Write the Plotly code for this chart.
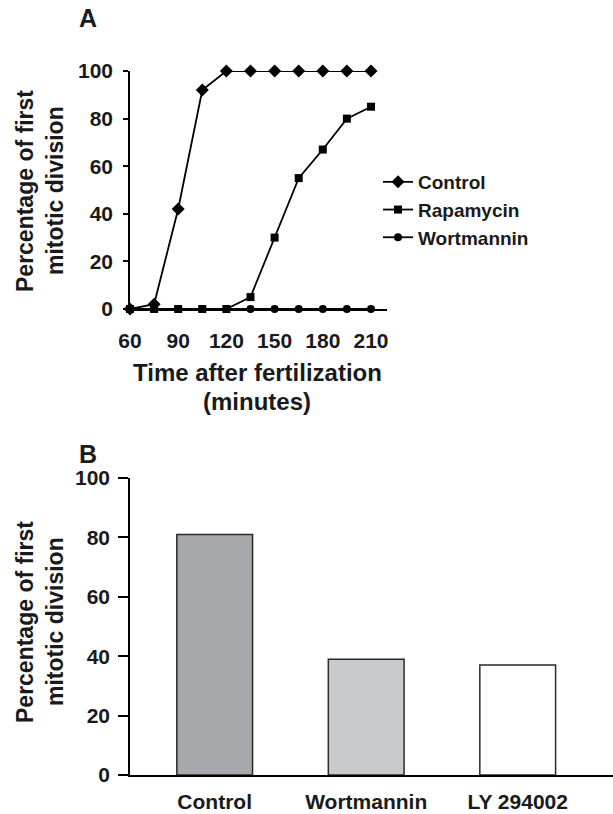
import plotly.graph_objects as go

# ---- Panel A data ----
time_min = [60, 75, 90, 105, 120, 135, 150, 165, 180, 195, 210]
control = [0, 2, 42, 92, 100, 100, 100, 100, 100, 100, 100]
rapamycin = [0, 0, 0, 0, 0, 5, 30, 55, 67, 80, 85]
wortmannin = [0, 0, 0, 0, 0, 0, 0, 0, 0, 0, 0]
a_xticks = [60, 90, 120, 150, 180, 210]
a_yticks = [0, 20, 40, 60, 80, 100]

# ---- Panel B data ----
b_categories = ["Control", "Wortmannin", "LY 294002"]
b_values = [81, 39, 37]
b_colors = ["#a7a8ac", "#c9cacc", "#ffffff"]
b_yticks = [0, 20, 40, 60, 80, 100]

W, H = 613, 814
FONT = "Liberation Sans, Arial, Helvetica, sans-serif"
INK = "#1a1a1a"


def px(x):
    return x / W


def py(y):
    return 1 - y / H


fig = go.Figure()

line_kw = dict(color="black", width=1.8)
fig.add_trace(go.Scatter(x=time_min, y=control, name="Control", mode="lines+markers",
                         line=line_kw, marker=dict(symbol="diamond", size=10, color="black"),
                         xaxis="x", yaxis="y", cliponaxis=False, legendgroup="c"))
fig.add_trace(go.Scatter(x=time_min, y=rapamycin, name="Rapamycin", mode="lines+markers",
                         line=line_kw, marker=dict(symbol="square", size=8, color="black"),
                         xaxis="x", yaxis="y", cliponaxis=False, legendgroup="r"))
fig.add_trace(go.Scatter(x=time_min, y=wortmannin, name="Wortmannin", mode="lines+markers",
                         line=line_kw, marker=dict(symbol="circle", size=8, color="black"),
                         xaxis="x", yaxis="y", cliponaxis=False, legendgroup="w"))

fig.add_trace(go.Bar(x=b_categories, y=b_values, width=0.5,
                     marker=dict(color=b_colors, line=dict(color="#2a2a2a", width=1.5)),
                     xaxis="x2", yaxis="y2", showlegend=False))

# Panel A geometry (pixels)
a_left, a_right, a_top, a_bottom = 130, 387, 71, 309
a_x210 = 371
a_xmax = 60 + (a_right - a_left) / (a_x210 - a_left) * 150

# Panel B geometry
b_left, b_right, b_top, b_bottom = 130, 613, 478, 775
b_c0, b_step = 214.7, 151.5

tickfont = dict(family=FONT, size=21, color=INK, weight="bold")

common = dict(showline=True, linecolor="black", linewidth=1.5, showgrid=False,
              zeroline=False, tickfont=tickfont, automargin=False, fixedrange=True)

fig.update_layout(
    width=W, height=H,
    margin=dict(l=0, r=0, t=0, b=0),
    paper_bgcolor="white", plot_bgcolor="white",
    font=dict(family=FONT, color=INK),
    xaxis=dict(domain=[px(a_left), px(a_right)], range=[60, a_xmax],
               tickvals=a_xticks, ticks="outside", ticklen=12, tickcolor="rgba(0,0,0,0)",
               anchor="y", **common),
    yaxis=dict(domain=[py(a_bottom), py(a_top)], range=[0, 100],
               tickvals=a_yticks, ticks="outside", ticklen=5, tickwidth=1.5, tickcolor="black",
               ticklabelstandoff=6, anchor="x", **common),
    xaxis2=dict(domain=[px(b_left), px(b_right)],
                range=[(b_left - b_c0) / b_step, (b_right - b_c0) / b_step],
                type="category", ticks="outside", ticklen=7, tickcolor="rgba(0,0,0,0)",
                anchor="y2", **common),
    yaxis2=dict(domain=[py(b_bottom), py(b_top)], range=[0, 100],
                tickvals=b_yticks, ticks="outside", ticklen=10, tickwidth=1.5, tickcolor="black",
                ticklabelstandoff=4, anchor="x2", **common),
    legend=dict(x=px(378), y=py(163), xanchor="left", yanchor="top",
                font=dict(family=FONT, size=19, color=INK, weight="bold"),
                traceorder="grouped", tracegroupgap=0, itemwidth=30,
                bgcolor="rgba(0,0,0,0)"),
)

big = dict(family=FONT, size=24, color=INK, weight="bold")
title_font = dict(family=FONT, size=23, color=INK, weight="bold")
letter_font = dict(family=FONT, size=25, color=INK, weight="bold")
anns = [
    dict(text="A", x=px(88), y=py(18), font=letter_font),
    dict(text="B", x=px(88), y=py(454), font=letter_font),
    dict(text="Time after fertilization", x=px(257), y=py(372), font=big),
    dict(text="(minutes)", x=px(257), y=py(401), font=big),
    dict(text="Percentage of first", x=px(25), y=py(191), textangle=-90, font=title_font),
    dict(text="mitotic division", x=px(55), y=py(191), textangle=-90, font=title_font),
    dict(text="Percentage of first", x=px(25), y=py(622), textangle=-90, font=title_font),
    dict(text="mitotic division", x=px(55), y=py(622), textangle=-90, font=title_font),
]
for a in anns:
    a.update(xref="paper", yref="paper", xanchor="center", yanchor="middle", showarrow=False)
    fig.add_annotation(**a)

fig.write_html("out.html", config={"displayModeBar": False},
               post_script="document.body.style.margin='0';document.body.style.overflow='hidden';")
